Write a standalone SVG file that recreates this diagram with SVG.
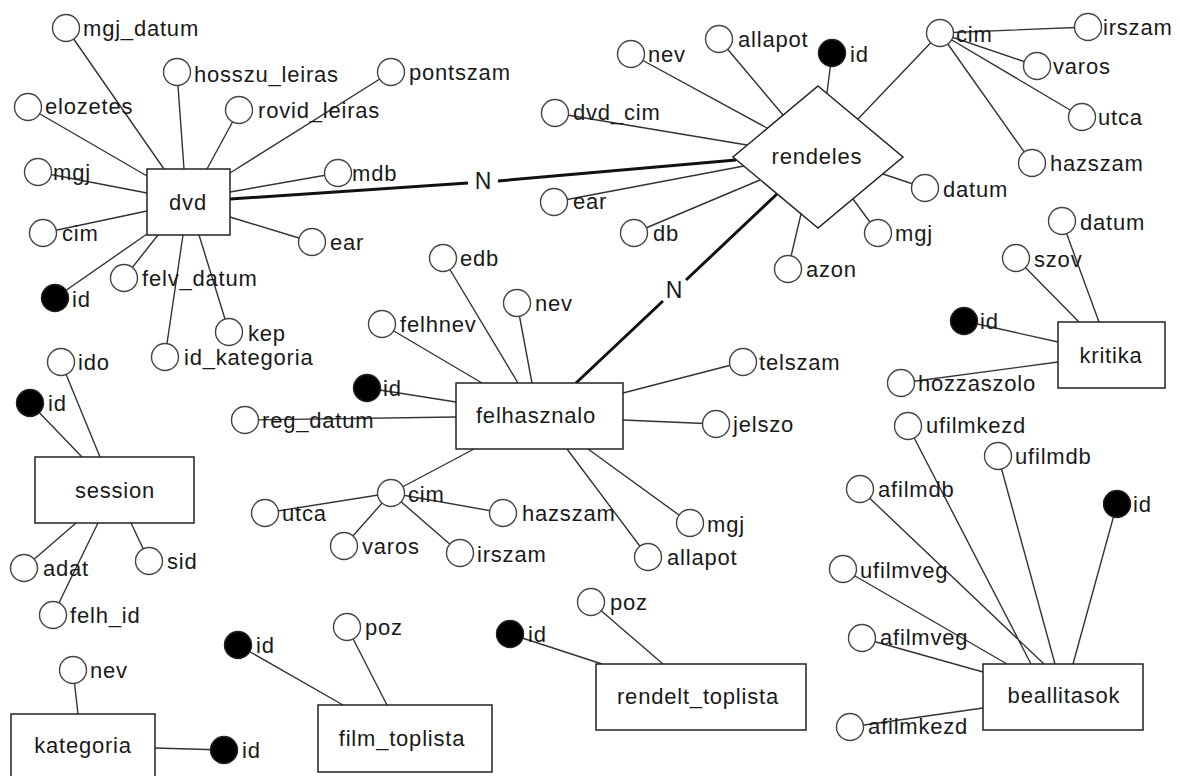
<svg xmlns="http://www.w3.org/2000/svg" width="1180" height="776" viewBox="0 0 1180 776">
<style>
.ln{stroke:#333;stroke-width:1.4;fill:none}
.rel{stroke:#111;stroke-width:3;fill:none}
.a{fill:#fff;stroke:#444;stroke-width:1.4}
.k{fill:#000;stroke:#222;stroke-width:1.4}
.e{fill:#fff;stroke:#222;stroke-width:1.5}
text{font-family:"Liberation Sans",Arial,sans-serif;font-size:22px;letter-spacing:0.8px;fill:#1a1a1a}
.c{text-anchor:middle}
.n{font-size:23px;letter-spacing:0}
</style>
<rect width="1180" height="776" fill="#fff"/>
<g id="connectors">
<path class="ln" d="M66,28L164,169M177,72L184,169M28,107L147,176M239,110L207,169M391,72L230,173M38,172L147,193M338,173L230,192M43,233L147,211M312,242L230,217M55,298L147,234M124,278L158,235M229,332L199,235M165,357L183,235"/>
<path class="ln" d="M631,54L767,128M719,39L783,115M832,53L827,93M555,113L747,145M554,202L744,166M634,233L760,180M788,269L801,214M878,233L853,199M925,188L883,174M940,33L858,119"/>
<path class="ln" d="M940,33L1088,27M940,33L1037,66M940,33L1082,117M940,33L1032,163"/>
<path class="ln" d="M1062,221L1099,322M1016,258L1079,322M964,321L1058,342M901,383L1058,362"/>
<path class="ln" d="M443,258L518,383M517,303L532,383M382,324L482,383M367,388L456,402M245,420L456,417M743,362L623,393M716,424L623,420M690,523L588,449M648,557L567,449M391,493L474,449"/>
<path class="ln" d="M391,493L265,513M391,493L344,546M391,493L460,553M391,493L503,513"/>
<path class="ln" d="M61,362L100,457M30,403L82,457M24,568L76,523M53,615L98,523M149,561L131,523"/>
<path class="ln" d="M73,670L78,714M224,750L155,748"/>
<path class="ln" d="M238,645L343,705M347,627L387,705"/>
<path class="ln" d="M510,634L602,664M591,602L663,664"/>
<path class="ln" d="M908,426L1031,664M998,456L1055,664M1117,504L1073,664M860,489L1044,664M843,569L1007,664M862,638L983,672M850,727L983,708"/>
<path class="rel" d="M230,199L468,183M498,181L736,160"/>
<path class="rel" d="M576,383L663,301M686,280L777,194"/>
<text x="483" y="189" class="c n">N</text>
<text x="674" y="298" class="c n">N</text>
</g>

<g id="dvd"><rect class="e" x="147" y="169" width="83" height="66"/><text x="188" y="210" class="c">dvd</text></g>
<g id="dvd-mgj_datum"><circle class="a" cx="66" cy="28" r="13.5"/><text x="83" y="36">mgj_datum</text></g>
<g id="dvd-hosszu_leiras"><circle class="a" cx="177" cy="72" r="13.5"/><text x="194" y="82">hosszu_leiras</text></g>
<g id="dvd-elozetes"><circle class="a" cx="28" cy="107" r="13.5"/><text x="45" y="114">elozetes</text></g>
<g id="dvd-rovid_leiras"><circle class="a" cx="239" cy="110" r="13.5"/><text x="258" y="118">rovid_leiras</text></g>
<g id="dvd-pontszam"><circle class="a" cx="391" cy="72" r="13.5"/><text x="409" y="80">pontszam</text></g>
<g id="dvd-mgj"><circle class="a" cx="38" cy="172" r="13.5"/><text x="53" y="180">mgj</text></g>
<g id="dvd-mdb"><circle class="a" cx="338" cy="173" r="13.5"/><text x="352" y="181">mdb</text></g>
<g id="dvd-cim"><circle class="a" cx="43" cy="233" r="13.5"/><text x="62" y="241">cim</text></g>
<g id="dvd-ear"><circle class="a" cx="312" cy="242" r="13.5"/><text x="330" y="250">ear</text></g>
<g id="dvd-id"><circle class="k" cx="55" cy="298" r="13.5"/><text x="72" y="307">id</text></g>
<g id="dvd-felv_datum"><circle class="a" cx="124" cy="278" r="13.5"/><text x="142" y="286">felv_datum</text></g>
<g id="dvd-kep"><circle class="a" cx="229" cy="332" r="13.5"/><text x="248" y="341">kep</text></g>
<g id="dvd-id_kategoria"><circle class="a" cx="165" cy="357" r="13.5"/><text x="184" y="365">id_kategoria</text></g>

<g id="rendeles"><polygon class="e" points="818,86 903,157 818,228 733,157"/><text x="817" y="164" class="c">rendeles</text></g>
<g id="rendeles-nev"><circle class="a" cx="631" cy="54" r="13.5"/><text x="648" y="62">nev</text></g>
<g id="rendeles-allapot"><circle class="a" cx="719" cy="39" r="13.5"/><text x="738" y="47">allapot</text></g>
<g id="rendeles-id"><circle class="k" cx="832" cy="53" r="13.5"/><text x="850" y="62">id</text></g>
<g id="rendeles-dvd_cim"><circle class="a" cx="555" cy="113" r="13.5"/><text x="573" y="120">dvd_cim</text></g>
<g id="rendeles-ear"><circle class="a" cx="554" cy="202" r="13.5"/><text x="573" y="209">ear</text></g>
<g id="rendeles-db"><circle class="a" cx="634" cy="233" r="13.5"/><text x="653" y="241">db</text></g>
<g id="rendeles-azon"><circle class="a" cx="788" cy="269" r="13.5"/><text x="806" y="277">azon</text></g>
<g id="rendeles-mgj"><circle class="a" cx="878" cy="233" r="13.5"/><text x="895" y="241">mgj</text></g>
<g id="rendeles-datum"><circle class="a" cx="925" cy="188" r="13.5"/><text x="943" y="197">datum</text></g>
<g id="rendeles-cim"><circle class="a" cx="940" cy="33" r="13.5"/><text x="956" y="42">cim</text></g>
<g id="rendeles-cim-irszam"><circle class="a" cx="1088" cy="27" r="13.5"/><text x="1103" y="35">irszam</text></g>
<g id="rendeles-cim-varos"><circle class="a" cx="1037" cy="66" r="13.5"/><text x="1053" y="74">varos</text></g>
<g id="rendeles-cim-utca"><circle class="a" cx="1082" cy="117" r="13.5"/><text x="1098" y="125">utca</text></g>
<g id="rendeles-cim-hazszam"><circle class="a" cx="1032" cy="163" r="13.5"/><text x="1050" y="171">hazszam</text></g>

<g id="kritika"><rect class="e" x="1058" y="322" width="107" height="66"/><text x="1111" y="363" class="c">kritika</text></g>
<g id="kritika-datum"><circle class="a" cx="1062" cy="221" r="13.5"/><text x="1080" y="230">datum</text></g>
<g id="kritika-szov"><circle class="a" cx="1016" cy="258" r="13.5"/><text x="1034" y="267">szov</text></g>
<g id="kritika-id"><circle class="k" cx="964" cy="321" r="13.5"/><text x="980" y="329">id</text></g>
<g id="kritika-hozzaszolo"><circle class="a" cx="901" cy="383" r="13.5"/><text x="918" y="391">hozzaszolo</text></g>

<g id="felhasznalo"><rect class="e" x="456" y="383" width="167" height="66"/><text x="536" y="423" class="c">felhasznalo</text></g>
<g id="felhasznalo-edb"><circle class="a" cx="443" cy="258" r="13.5"/><text x="460" y="266">edb</text></g>
<g id="felhasznalo-nev"><circle class="a" cx="517" cy="303" r="13.5"/><text x="535" y="311">nev</text></g>
<g id="felhasznalo-felhnev"><circle class="a" cx="382" cy="324" r="13.5"/><text x="400" y="332">felhnev</text></g>
<g id="felhasznalo-id"><circle class="k" cx="367" cy="388" r="13.5"/><text x="383" y="396">id</text></g>
<g id="felhasznalo-reg_datum"><circle class="a" cx="245" cy="420" r="13.5"/><text x="262" y="428">reg_datum</text></g>
<g id="felhasznalo-telszam"><circle class="a" cx="743" cy="362" r="13.5"/><text x="759" y="370">telszam</text></g>
<g id="felhasznalo-jelszo"><circle class="a" cx="716" cy="424" r="13.5"/><text x="733" y="432">jelszo</text></g>
<g id="felhasznalo-mgj"><circle class="a" cx="690" cy="523" r="13.5"/><text x="707" y="532">mgj</text></g>
<g id="felhasznalo-allapot"><circle class="a" cx="648" cy="557" r="13.5"/><text x="667" y="565">allapot</text></g>
<g id="felhasznalo-cim"><circle class="a" cx="391" cy="493" r="13.5"/><text x="408" y="502">cim</text></g>
<g id="felhasznalo-cim-utca"><circle class="a" cx="265" cy="513" r="13.5"/><text x="282" y="521">utca</text></g>
<g id="felhasznalo-cim-varos"><circle class="a" cx="344" cy="546" r="13.5"/><text x="362" y="554">varos</text></g>
<g id="felhasznalo-cim-irszam"><circle class="a" cx="460" cy="553" r="13.5"/><text x="477" y="562">irszam</text></g>
<g id="felhasznalo-cim-hazszam"><circle class="a" cx="503" cy="513" r="13.5"/><text x="522" y="521">hazszam</text></g>

<g id="session"><rect class="e" x="35" y="457" width="159" height="66"/><text x="115" y="498" class="c">session</text></g>
<g id="session-ido"><circle class="a" cx="61" cy="362" r="13.5"/><text x="78" y="370">ido</text></g>
<g id="session-id"><circle class="k" cx="30" cy="403" r="13.5"/><text x="48" y="411">id</text></g>
<g id="session-adat"><circle class="a" cx="24" cy="568" r="13.5"/><text x="43" y="576">adat</text></g>
<g id="session-felh_id"><circle class="a" cx="53" cy="615" r="13.5"/><text x="70" y="623">felh_id</text></g>
<g id="session-sid"><circle class="a" cx="149" cy="561" r="13.5"/><text x="167" y="569">sid</text></g>

<g id="kategoria"><rect class="e" x="11" y="714" width="144" height="80"/><text x="83" y="753" class="c">kategoria</text></g>
<g id="kategoria-nev"><circle class="a" cx="73" cy="670" r="13.5"/><text x="90" y="678">nev</text></g>
<g id="kategoria-id"><circle class="k" cx="224" cy="750" r="13.5"/><text x="242" y="758">id</text></g>

<g id="film_toplista"><rect class="e" x="318" y="705" width="174" height="67"/><text x="402" y="746" class="c">film_toplista</text></g>
<g id="film_toplista-id"><circle class="k" cx="238" cy="645" r="13.5"/><text x="256" y="653">id</text></g>
<g id="film_toplista-poz"><circle class="a" cx="347" cy="627" r="13.5"/><text x="365" y="635">poz</text></g>

<g id="rendelt_toplista"><rect class="e" x="596" y="664" width="210" height="66"/><text x="698" y="704" class="c">rendelt_toplista</text></g>
<g id="rendelt_toplista-id"><circle class="k" cx="510" cy="634" r="13.5"/><text x="528" y="642">id</text></g>
<g id="rendelt_toplista-poz"><circle class="a" cx="591" cy="602" r="13.5"/><text x="610" y="610">poz</text></g>

<g id="beallitasok"><rect class="e" x="983" y="664" width="160" height="66"/><text x="1064" y="703" class="c">beallitasok</text></g>
<g id="beallitasok-ufilmkezd"><circle class="a" cx="908" cy="426" r="13.5"/><text x="926" y="433">ufilmkezd</text></g>
<g id="beallitasok-ufilmdb"><circle class="a" cx="998" cy="456" r="13.5"/><text x="1015" y="464">ufilmdb</text></g>
<g id="beallitasok-id"><circle class="k" cx="1117" cy="504" r="13.5"/><text x="1133" y="512">id</text></g>
<g id="beallitasok-afilmdb"><circle class="a" cx="860" cy="489" r="13.5"/><text x="878" y="497">afilmdb</text></g>
<g id="beallitasok-ufilmveg"><circle class="a" cx="843" cy="569" r="13.5"/><text x="860" y="578">ufilmveg</text></g>
<g id="beallitasok-afilmveg"><circle class="a" cx="862" cy="638" r="13.5"/><text x="880" y="645">afilmveg</text></g>
<g id="beallitasok-afilmkezd"><circle class="a" cx="850" cy="727" r="13.5"/><text x="868" y="734">afilmkezd</text></g>
</svg>
